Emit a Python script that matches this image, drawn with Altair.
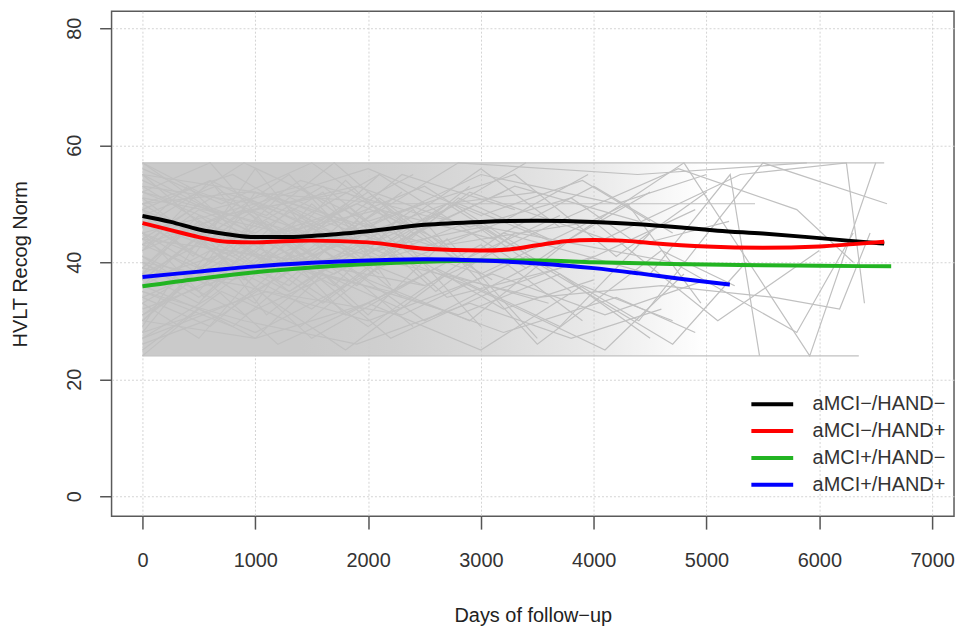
import altair as alt
import pandas as pd

# ---------------- data ----------------
groups = ["aMCI−/HAND−", "aMCI−/HAND+", "aMCI+/HAND−", "aMCI+/HAND+"]
group_colors = ["#000000", "#ff0000", "#22b422", "#0000ff"]

black_days = [0, 250, 500, 750, 1000, 1250, 1500, 2000, 2500, 3000, 3500, 4000, 4400, 4800, 5100, 5500, 5900, 6250, 6575]
black_vals = [47.9, 46.9, 45.6, 44.8, 44.3, 44.3, 44.5, 45.3, 46.4, 46.9, 47.1, 46.9, 46.5, 45.9, 45.4, 44.9, 44.3, 43.7, 43.2]
red_days = [0, 250, 500, 750, 1000, 1250, 1500, 2000, 2500, 3000, 3250, 3500, 3750, 4000, 4250, 4500, 5000, 5500, 6000, 6300, 6575]
red_vals = [46.7, 45.5, 44.3, 43.5, 43.4, 43.6, 43.7, 43.4, 42.3, 42.0, 42.2, 42.9, 43.6, 43.8, 43.7, 43.3, 42.7, 42.5, 42.7, 43.1, 43.5]
green_days = [0, 500, 1000, 1500, 2000, 2500, 3000, 3500, 4000, 4500, 5000, 5500, 6000, 6637]
green_vals = [35.9, 37.2, 38.3, 39.1, 39.7, 40.1, 40.3, 40.3, 40.0, 39.8, 39.6, 39.5, 39.4, 39.3]
blue_days = [0, 500, 1000, 1500, 2000, 2500, 3000, 3500, 4000, 4400, 4800, 5207]
blue_vals = [37.5, 38.4, 39.3, 39.9, 40.3, 40.5, 40.3, 39.8, 39.0, 38.1, 37.1, 36.2]

# dense band of individual trajectories (all scores lie in 24..57)
dense_days = [0, 5000]
dense_lo = [24, 24]
dense_hi = [57, 57]

# individual trajectories, "day:score"
subjects = [
    "0:57 1100:57 2300:57 3600:57 5000:57 6575:57",
    "0:24 1300:24 2600:24 3900:24 5200:24 6350:24",
    "0:50 900:52 2200:50 3700:50 5430:50",
    "0:44 1500:40 3000:46 4400:30 5500:57 6600:50",
    "0:38 700:45 1600:33 2900:52 4100:44 5300:55 6240:57 6400:33",
    "0:47 800:41 2100:55 3400:39 4800:57 5915:24 6500:57",
    "0:52 1200:46 2500:36 3800:48 4750:56 5800:49 6300:40",
    "0:31 900:43 2000:29 3200:45 4500:38 5210:55 5470:24",
    "0:42 600:54 1700:44 2800:57 4390:55 5890:57",
    "0:36 1000:28 2200:40 3500:34 4600:36 5600:34 6180:32 6450:45",
    "0:55 700:48 1800:52 2700:43 4000:47 5100:30 6000:42",
    "0:28 1100:35 2300:31 3400:41 4700:26 5350:40",
    "0:46 900:57 2000:47 3300:55 4200:41 5000:52",
    "0:40 800:37 1900:45 3000:38 4300:50 4950:33",
    "0:33 700:41 1500:27 2600:39 3700:29 4500:45",
    "0:49 600:44 1400:54 2500:48 3600:44 4700:40 5800:28 6300:45",
    "0:27 800:33 1800:44 2900:36 4100:25 4800:38",
    "0:53 1000:50 2100:42 3300:53 4400:47",
    "0:39 500:47 1300:35 2400:49 3500:26 4600:42 5250:36",
    "0:45 900:38 1800:50 2700:34 3900:40 4900:49",
    "0:41 600:36 1300:49 2000:40 2900:47 3800:35",
    "0:56 700:50 1500:57 2400:45 3200:52",
    "0:30 500:38 1200:26 2100:34 3000:43 3900:30",
    "0:48 650:53 1400:41 2300:55 3300:49",
    "0:35 800:29 1600:42 2500:30 3500:40",
    "0:43 500:39 1100:47 1900:36 2800:51 3600:44",
    "0:52 900:45 1700:38 2600:48 3400:57",
    "0:26 700:31 1400:40 2200:27 3100:35 4000:41",
    "0:37 600:46 1300:43 2000:52 2800:40 3700:48",
    "0:45 550:34 1200:45 2000:31 2700:44 3500:27",
    "0:50 800:55 1600:46 2500:53 3400:42",
    "0:34 700:40 1500:32 2400:45 3100:37",
    "0:57 600:49 1400:53 2300:40 3200:47 3950:55",
    "0:29 500:44 1100:34 1800:25 2700:38 3600:33",
    "0:42 700:48 1500:39 2200:46 3000:29",
    "0:47 600:40 1200:51 2100:44 3000:56 3700:46",
    "0:38 500:33 1000:44 1800:49 2600:35 3300:45",
    "0:54 800:47 1700:43 2700:50 3600:39",
    "0:31 600:37 1300:46 2000:37 2900:30 3800:44",
    "0:44 700:52 1400:48 2100:41 2900:53",
    "0:40 900:31 1800:39 2700:50 3500:52",
    "0:48 500:45 1200:37 1900:47 2700:42",
    "0:36 800:44 1600:53 2400:41 3200:32 4000:37",
    "0:51 600:42 1300:36 2100:51 3000:38",
    "0:25 700:35 1400:29 2200:41 3100:46",
    "0:39 500:48 1100:40 1800:54 2400:43",
    "0:46 400:53 900:44 1500:37 2200:49",
    "0:33 500:27 1000:38 1600:45 2300:34",
    "0:55 600:45 1200:52 1900:46",
    "0:41 500:35 1000:47 1700:39 2500:36",
    "0:28 600:42 1300:35 2000:43",
    "0:49 450:41 1000:56 1600:42 2300:52",
    "0:37 550:45 1100:31 1700:40 2400:29",
    "0:43 500:50 1100:46 1800:35",
    "0:52 600:57 1200:44 1900:50 2500:45",
    "0:30 500:39 1000:33 1500:46 2100:38",
    "0:45 700:37 1400:43 2100:55",
    "0:36 400:43 900:51 1500:44 2200:40",
    "0:50 500:44 1100:38 1700:48 2400:55",
    "0:27 600:34 1200:43 1800:31 2400:37",
    "0:42 500:49 1000:45 1600:52 2200:36",
    "0:57 500:52 1100:48 1700:57 2300:47",
    "0:34 600:29 1200:39 1900:44",
    "0:47 400:42 900:49 1500:41 2100:46",
    "0:40 500:34 1100:42 1700:36 2300:48",
    "0:53 600:46 1300:55 2000:41",
    "0:24 500:32 1000:27 1600:38 2300:32",
    "0:44 500:38 1000:52 1600:47 2200:43",
    "0:38 400:46 900:37 1500:50 2000:42",
    "0:49 600:54 1200:39 1800:45 2500:50",
    "0:45 1000:50 2000:56 3000:48 3900:54 4500:47",
    "0:35 900:30 1900:26 2900:33 3800:27 4600:32",
    "0:48 1000:44 2100:49 3100:44 4000:53 4700:45",
    "0:32 1100:40 2200:35 3200:28 4200:34 4900:28",
    "0:51 800:48 1900:53 2900:46 3800:51 4400:43 5200:47",
    "0:39 900:36 2000:30 3100:38 4100:31 5000:37",
    "0:55 1000:52 2000:46 3000:55 4200:50 5000:55",
    "0:30 1000:27 2000:33 3000:25 3900:36 4700:30",
    "0:43 900:49 1900:42 2800:50 3700:43 4500:52",
    "0:37 800:42 1800:37 2800:31 3700:38 4500:27",
]

x_ticks = [0, 1000, 2000, 3000, 4000, 5000, 6000, 7000]
y_ticks = [0, 20, 40, 60, 80]

# ---------------- tables ----------------
mean_rows = []
for g, days, vals in zip(groups, [black_days, red_days, green_days, blue_days],
                         [black_vals, red_vals, green_vals, blue_vals]):
    for d, v in zip(days, vals):
        mean_rows.append({"group": g, "day": d, "score": v})
means = pd.DataFrame(mean_rows)

ind_rows = []
for i, s in enumerate(subjects):
    for k, pair in enumerate(s.split()):
        d, v = pair.split(":")
        ind_rows.append({"id": i, "k": k, "day": float(d), "score": float(v)})
indiv = pd.DataFrame(ind_rows)

band = pd.DataFrame({"day": dense_days, "lo": dense_lo, "hi": dense_hi})

FONT = "Liberation Sans"
xs = alt.Scale(domain=[-274, 7194], nice=False, zero=False)
ys = alt.Scale(domain=[-3.4, 82.9], nice=False, zero=False)

x_axis = alt.Axis(values=x_ticks, title="Days of follow−up", format="d",
                  grid=True, gridColor="#d4d4d4", gridDash=[2, 2], gridWidth=1,
                  domain=False, ticks=True, tickSize=13, tickWidth=1.5, tickColor="#555555",
                  labelFontSize=20, labelColor="#333333", labelPadding=22, labelFont=FONT,
                  titleFontSize=20, titleFontWeight="normal", titleColor="#222222",
                  titleFont=FONT, titlePadding=35)
y_axis = alt.Axis(values=y_ticks, title="HVLT Recog Norm", format="d",
                  grid=True, gridColor="#d4d4d4", gridDash=[2, 2], gridWidth=1,
                  domain=False, ticks=True, tickSize=12, tickWidth=1.5, tickColor="#555555",
                  labelFontSize=20, labelColor="#333333", labelPadding=15, labelFont=FONT,
                  labelAngle=270, labelAlign="center", labelBaseline="bottom",
                  titleFontSize=20, titleFontWeight="normal", titleColor="#222222",
                  titleFont=FONT, titlePadding=34)

gradient = alt.LinearGradient(
    gradient="linear", x1=0, x2=1, y1=0, y2=0,
    stops=[
        alt.GradientStop(color="rgba(202,202,202,1)", offset=0),
        alt.GradientStop(color="rgba(202,202,202,1)", offset=0.28),
        alt.GradientStop(color="rgba(202,202,202,0.88)", offset=0.45),
        alt.GradientStop(color="rgba(202,202,202,0.68)", offset=0.62),
        alt.GradientStop(color="rgba(202,202,202,0.4)", offset=0.8),
        alt.GradientStop(color="rgba(202,202,202,0)", offset=1),
    ])

area = alt.Chart(band).mark_area(color=gradient).encode(
    x=alt.X("day:Q", scale=xs, axis=x_axis),
    y=alt.Y("lo:Q", scale=ys, axis=y_axis),
    y2="hi:Q",
)

spag = alt.Chart(indiv).mark_line(color="#c0c0c0", strokeWidth=1.2).encode(
    x=alt.X("day:Q", scale=xs, axis=x_axis),
    y=alt.Y("score:Q", scale=ys, axis=y_axis),
    detail="id:N",
    order="k:Q",
)

lines = alt.Chart(means).mark_line(strokeWidth=4, interpolate="monotone").encode(
    x=alt.X("day:Q", scale=xs, axis=x_axis),
    y=alt.Y("score:Q", scale=ys, axis=y_axis),
    color=alt.Color("group:N", scale=alt.Scale(domain=groups, range=group_colors),
                    legend=alt.Legend(orient="none", legendX=651, legendY=382, title=None,
                                      symbolType="M-2,0H2", symbolSize=441, symbolStrokeWidth=4,
                                      labelFontSize=20, labelFont=FONT, labelColor="#333333",
                                      labelOffset=28, rowPadding=4, padding=0)),
)

chart = alt.layer(area, spag, lines).properties(
    width=846, height=507,
    padding={"left": 104, "top": 2, "right": 4, "bottom": 112},
    autosize=alt.AutoSizeParams(type="none"),
).configure_view(stroke="#5a5a5a", strokeWidth=1.5)

chart.save("out.html", embed_options={"renderer": "svg", "actions": False})
